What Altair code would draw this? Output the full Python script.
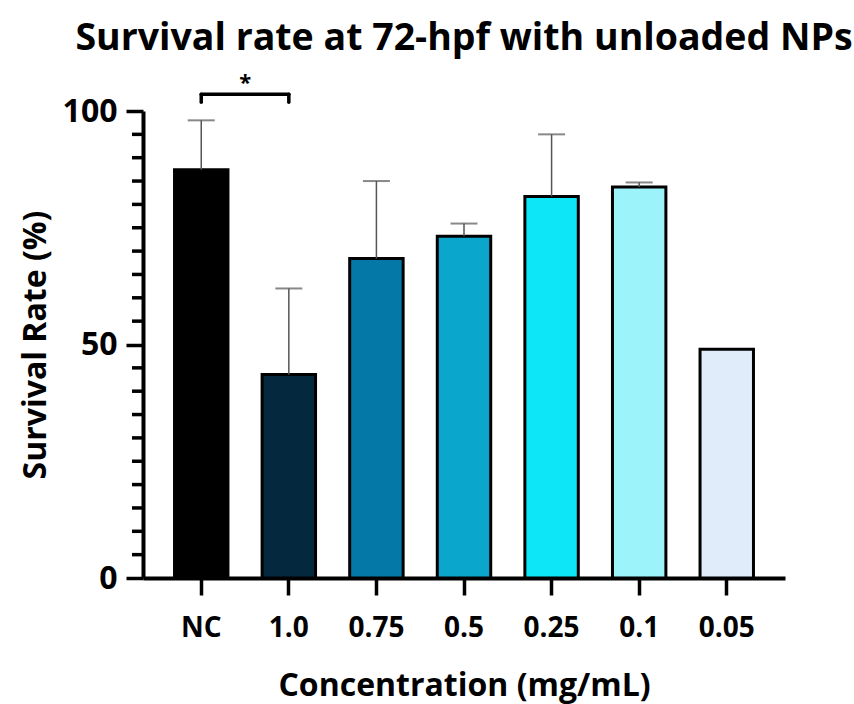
import altair as alt
import pandas as pd

categories = ["NC", "1.0", "0.75", "0.5", "0.25", "0.1", "0.05"]
means = [87.4, 43.6, 68.4, 73.2, 81.7, 83.7, 49.0]
upper = [98.0, 62.0, 85.0, 75.9, 95.0, 84.7, None]
colors = ["#000000", "#04283e", "#0479a8", "#0aa6cc", "#0de6f7", "#9cf3f9", "#e0ecfa"]

major_ticks = [0, 50, 100]
minor_ticks = [5, 10, 15, 20, 25, 30, 35, 40, 45, 55, 60, 65, 70, 75, 80, 85, 90, 95]

sig_pair = ["NC", "1.0"]
sig_level = 103.6
sig_drop = 101.9
sig_label = "*"
sig_label_y = 106.0

FONT = "Open Sans"

bars_df = pd.DataFrame({"cat": categories, "mean": means, "upper": upper})
err_df = bars_df.dropna(subset=["upper"])
minor_df = pd.DataFrame({"v": minor_ticks})
bracket_h = pd.DataFrame({"cat": [sig_pair[0]], "cat2": [sig_pair[1]], "y": [sig_level]})
bracket_v = pd.DataFrame({"cat": sig_pair, "y": [sig_level] * 2, "y2": [sig_drop] * 2})
star_df = pd.DataFrame({"cat": [sig_pair[0]], "y": [sig_label_y], "label": [sig_label]})

x_scale = alt.Scale(domain=categories, paddingInner=0.39, paddingOuter=0.36)
x_axis = alt.Axis(
    title="Concentration (mg/mL)",
    labelAngle=0,
    labelFontSize=28,
    labelPadding=19,
    tickSize=17,
    titleFontSize=32,
    titlePadding=28,
)
y_scale = alt.Scale(domain=[0, 100], nice=False, zero=True)
y_axis = alt.Axis(
    title="Survival Rate (%)",
    values=major_ticks,
    tickSize=17,
    labelFontSize=32,
    labelPadding=9,
    titleFontSize=32,
    titlePadding=10,
)


def xenc(field="cat"):
    return alt.X(f"{field}:N", scale=x_scale, sort=categories, axis=x_axis)


def yenc(field):
    return alt.Y(f"{field}:Q", scale=y_scale, axis=y_axis)


bars = alt.Chart(bars_df).mark_bar(stroke="black", strokeWidth=3).encode(
    x=xenc(),
    y=yenc("mean"),
    color=alt.Color("cat:N", scale=alt.Scale(domain=categories, range=colors), legend=None),
)

minor = alt.Chart(minor_df).mark_rule(color="black", strokeWidth=3.5).encode(
    x=alt.value(-11), x2=alt.value(0), y=yenc("v")
)

err_rule = alt.Chart(err_df).mark_rule(color="#555555", strokeWidth=1.5).encode(
    x=xenc(), y=yenc("mean"), y2="upper:Q"
)
err_cap = alt.Chart(err_df).mark_tick(color="#555555", thickness=2, size=27).encode(
    x=xenc(), y=yenc("upper")
)

br_h = alt.Chart(bracket_h).mark_rule(color="black", strokeWidth=3.5, strokeCap="round").encode(
    x=xenc(), x2="cat2:N", y=yenc("y")
)
br_v = alt.Chart(bracket_v).mark_rule(color="black", strokeWidth=3.5, strokeCap="round").encode(
    x=xenc(), y=yenc("y"), y2="y2:Q"
)
star = alt.Chart(star_df).mark_text(
    font=FONT, fontSize=22, fontWeight="bold", color="black", dx=44, baseline="middle"
).encode(x=xenc(), y=yenc("y"), text="label:N")

chart = (
    alt.layer(bars, minor, err_rule, err_cap, br_h, br_v, star)
    .properties(
        width=642,
        height=467,
        autosize=alt.AutoSizeParams(type="none"),
        padding={"left": 143, "top": 111, "right": 69, "bottom": 126},
        title=alt.TitleParams(
            "Survival rate at 72-hpf with unloaded NPs",
            font=FONT,
            fontSize=37.5,
            fontWeight="bold",
            color="black",
            anchor="middle",
            offset=14,
        ),
    )
    .configure_view(stroke=None)
    .configure_axis(
        domainColor="black",
        domainWidth=4,
        tickColor="black",
        tickWidth=3.5,
        labelColor="black",
        labelFont=FONT,
        labelFontWeight="bold",
        titleColor="black",
        titleFont=FONT,
        titleFontWeight="bold",
        grid=False,
    )
)

chart.save("out.html", embed_options={"renderer": "svg", "actions": False})
